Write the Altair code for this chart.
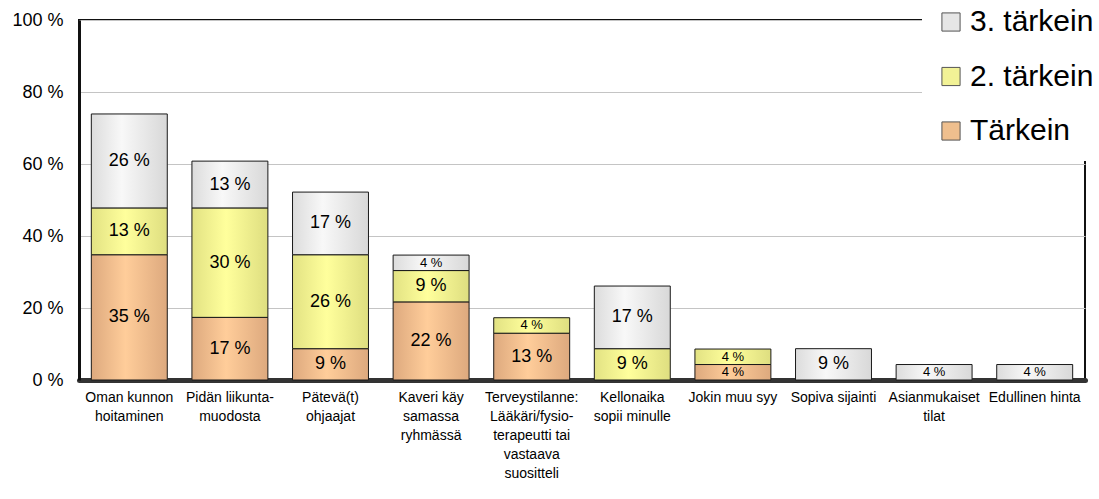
import altair as alt
import pandas as pd

categories = [
    "Oman kunnon\nhoitaminen",
    "Pidän liikunta-\nmuodosta",
    "Pätevä(t)\nohjaajat",
    "Kaveri käy\nsamassa\nryhmässä",
    "Terveystilanne:\nLääkäri/fysio-\nterapeutti tai\nvastaava\nsuositteli",
    "Kellonaika\nsopii minulle",
    "Jokin muu syy",
    "Sopiva sijainti",
    "Asianmukaiset\ntilat",
    "Edullinen hinta",
]
series_names = ["Tärkein", "2. tärkein", "3. tärkein"]
tarkein = [34.8, 17.4, 8.7, 21.7, 13.0, 0, 4.3, 0, 0, 0]
tarkein2 = [13.0, 30.4, 26.1, 8.7, 4.3, 8.7, 4.3, 0, 0, 0]
tarkein3 = [26.1, 13.0, 17.4, 4.3, 0, 17.4, 0, 8.7, 4.3, 4.3]
y_ticks = [0, 20, 40, 60, 80, 100]

rows = []
for si, (name, vals) in enumerate(zip(series_names, [tarkein, tarkein2, tarkein3])):
    for ci, (cat, v) in enumerate(zip(categories, vals)):
        rows.append({"cat": cat, "series": name, "order": si, "value": v})
df = pd.DataFrame(rows)

FONT = "Liberation Sans, Arial, sans-serif"

legend_domain = ["3. tärkein", "2. tärkein", "Tärkein"]
legend_range = ["#E6E6E6", "#F2F296", "#EFBF8E"]

gradients = {
    "Tärkein": [("#DDA97E", 0), ("#FFCD9A", 0.45), ("#DDA97E", 1)],
    "2. tärkein": [("#E2E283", 0), ("#FFFF9C", 0.45), ("#DEDE80", 1)],
    "3. tärkein": [("#DCDCDC", 0), ("#F8F8F8", 0.4), ("#D8D8D8", 1)],
}

xenc = alt.X(
    "cat:N",
    sort=categories,
    scale=alt.Scale(paddingInner=0.245, paddingOuter=0.1225),
    axis=alt.Axis(
        title=None,
        labelAngle=0,
        labelExpr="split(datum.label, '\\n')",
        labelFont=FONT,
        labelFontSize=14,
        labelLineHeight=19,
        labelColor="#000000",
        labelBaseline="top",
        labelPadding=10,
        labelLimit=200,
        ticks=False,
        domainColor="#333333",
        domainWidth=5,
        domainCap="round",
        grid=False,
    ),
)

yscale = alt.Scale(domain=[0, 100], nice=False)
yaxis = alt.Axis(
    title=None,
    values=y_ticks,
    labelExpr="datum.value + ' %'",
    labelFont=FONT,
    labelFontSize=18,
    labelColor="#000000",
    labelPadding=16,
    ticks=False,
    domainColor="#111111",
    domainWidth=3,
    grid=True,
    gridColor="#C4C4C4",
    gridWidth=1,
)

base = (
    alt.Chart(df)
    .transform_filter("datum.value > 0")
    .transform_stack(
        stack="value",
        groupby=["cat"],
        as_=["y0", "y1"],
        sort=[alt.SortField("order", order="ascending")],
    )
    .transform_calculate(mid="(datum.y0 + datum.y1) / 2")
)

solid = base.mark_bar().encode(
    x=xenc,
    y=alt.Y("y0:Q", scale=yscale, axis=yaxis),
    y2="y1:Q",
    color=alt.Color(
        "series:N",
        scale=alt.Scale(domain=legend_domain, range=legend_range),
        legend=alt.Legend(
            title=None,
            orient="none",
            legendX=843,
            legendY=-27,
            padding=14,
            fillColor="#FFFFFF",
            strokeColor="#FFFFFF",
            labelFont=FONT,
            labelFontSize=30,
            labelColor="#000000",
            labelLimit=300,
            symbolType="square",
            symbolSize=330,
            symbolStrokeColor="#555555",
            symbolStrokeWidth=1,
            rowPadding=24.5,
            labelOffset=4,
        ),
    ),
)

layers = [solid]
for name in series_names:
    stops = [alt.GradientStop(color=c, offset=o) for c, o in gradients[name]]
    layers.append(
        base.transform_filter(alt.datum.series == name)
        .mark_bar(
            fill=alt.LinearGradient(gradient="linear", stops=stops, x1=0, x2=1, y1=0, y2=0),
            stroke="#1A1A1A",
            strokeWidth=1,
        )
        .encode(x=alt.X("cat:N", sort=categories), y=alt.Y("y0:Q", scale=yscale), y2="y1:Q")
    )

labels = base.transform_calculate(
    lab="round(datum.value) + ' %'"
).mark_text(font=FONT, baseline="middle", align="center", color="#000000").encode(
    x=alt.X("cat:N", sort=categories),
    y=alt.Y("mid:Q", scale=yscale),
    text="lab:N",
    size=alt.condition("datum.value < 5", alt.value(13), alt.value(18)),
)
layers.append(labels)

chart = (
    alt.layer(*layers)
    .properties(
        width=1006,
        height=360,
        autosize=alt.AutoSizeParams(type="none"),
        padding={"left": 79, "top": 20, "right": 14, "bottom": 99},
        background="#FFFFFF",
    )
    .configure_view(stroke="#111111", strokeWidth=2)
)

chart.save("out.html", embed_options={"renderer": "svg", "actions": False})
